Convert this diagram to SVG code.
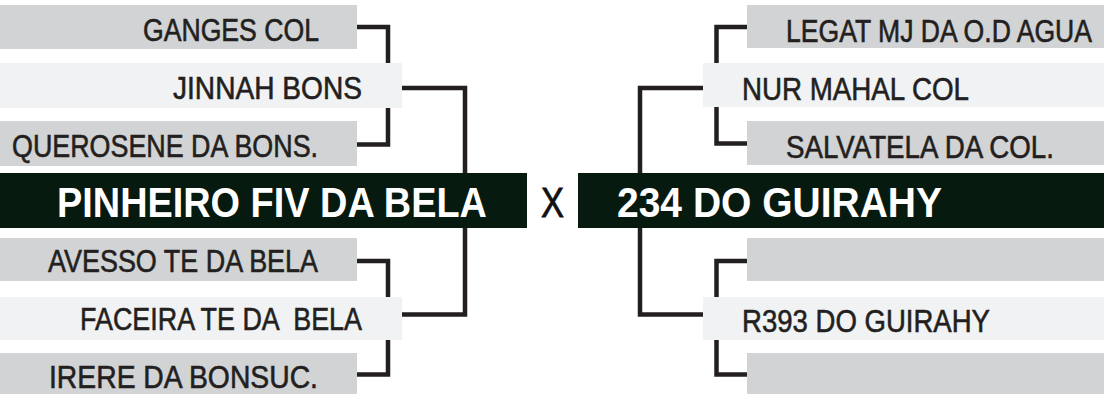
<svg xmlns="http://www.w3.org/2000/svg" width="1104" height="394" viewBox="0 0 1104 394">
<style>
.g{fill:#d1d3d4}
.l{fill:#f1f2f3}
.d{fill:#071a10}
.t{font-family:"Liberation Sans",Arial,sans-serif;font-size:32px;fill:#231f20;stroke:#231f20;stroke-width:0.6px}
.b{font-family:"Liberation Sans",Arial,sans-serif;font-size:43px;font-weight:bold;fill:#ffffff}
.c{fill:none;stroke:#231f20;stroke-width:4.5;stroke-linejoin:miter;stroke-linecap:butt}
</style>
<rect width="1104" height="394" fill="#ffffff"/>
<g id="connectors">
<path class="c" d="M357,27 H388 V63"/>
<path class="c" d="M388,108 V144.5 H357"/>
<path class="c" d="M402,88 H465 V173"/>
<path class="c" d="M357,261 H388 V297"/>
<path class="c" d="M388,340 V374.5 H357"/>
<path class="c" d="M402,314.5 H465 V228"/>
<path class="c" d="M747,27 H716.5 V63"/>
<path class="c" d="M716.5,107 V143.5 H747"/>
<path class="c" d="M703,88 H640 V173"/>
<path class="c" d="M747,261 H716.5 V297"/>
<path class="c" d="M716.5,340 V374.5 H747"/>
<path class="c" d="M703,314.5 H640 V228"/>
</g>
<g id="ganges"><rect class="g" x="0" y="5" width="357" height="44"/><text class="t" transform="translate(143 41) scale(0.82 1)" textLength="214.6" lengthAdjust="spacingAndGlyphs">GANGES COL</text></g>
<g id="jinnah"><rect class="l" x="0" y="63" width="402" height="45"/><text class="t" transform="translate(173 99) scale(0.82 1)" textLength="230.5" lengthAdjust="spacingAndGlyphs">JINNAH BONS</text></g>
<g id="querosene"><rect class="g" x="0" y="121" width="357" height="45"/><text class="t" transform="translate(12 157) scale(0.82 1)" textLength="373.2" lengthAdjust="spacingAndGlyphs">QUEROSENE DA BONS.</text></g>
<g id="pinheiro"><rect class="d" x="0" y="173" width="527" height="55"/><text class="b" transform="translate(57 216.5) scale(0.88 1)" textLength="488.6" lengthAdjust="spacingAndGlyphs">PINHEIRO FIV DA BELA</text></g>
<g id="avesso"><rect class="g" x="0" y="238" width="357" height="43"/><text class="t" transform="translate(48 272) scale(0.82 1)" textLength="329.3" lengthAdjust="spacingAndGlyphs">AVESSO TE DA BELA</text></g>
<g id="faceira"><rect class="l" x="0" y="297" width="402" height="43"/><text class="t" transform="translate(80 330) scale(0.82 1)" textLength="343.9" lengthAdjust="spacingAndGlyphs" xml:space="preserve">FACEIRA TE DA  BELA</text></g>
<g id="irere"><rect class="g" x="0" y="353" width="357" height="43"/><text class="t" transform="translate(49 388) scale(0.82 1)" textLength="328" lengthAdjust="spacingAndGlyphs">IRERE DA BONSUC.</text></g>
<g id="versus"><text x="541" y="217" font-family="Liberation Sans, Arial, sans-serif" font-size="42" fill="#111111" stroke="#111111" stroke-width="0.8" textLength="23" lengthAdjust="spacingAndGlyphs">X</text></g>
<g id="legat"><rect class="g" x="747" y="5" width="357" height="43"/><text class="t" transform="translate(786 42) scale(0.82 1)" textLength="373.2" lengthAdjust="spacingAndGlyphs">LEGAT MJ DA O.D AGUA</text></g>
<g id="nur"><rect class="l" x="703" y="63" width="401" height="44"/><text class="t" transform="translate(742 100) scale(0.82 1)" textLength="276.8" lengthAdjust="spacingAndGlyphs">NUR MAHAL COL</text></g>
<g id="salvatela"><rect class="g" x="747" y="121" width="357" height="44"/><text class="t" transform="translate(786 158) scale(0.82 1)" textLength="326.8" lengthAdjust="spacingAndGlyphs">SALVATELA DA COL.</text></g>
<g id="guirahy234"><rect class="d" x="578" y="173" width="526" height="55"/><text class="b" transform="translate(617 216.5) scale(0.88 1)" textLength="369.3" lengthAdjust="spacingAndGlyphs">234 DO GUIRAHY</text></g>
<g id="empty1"><rect class="g" x="747" y="238" width="357" height="43"/></g>
<g id="r393"><rect class="l" x="703" y="297" width="401" height="43"/><text class="t" transform="translate(742 332) scale(0.82 1)" textLength="302.4" lengthAdjust="spacingAndGlyphs">R393 DO GUIRAHY</text></g>
<g id="empty2"><rect class="g" x="747" y="353" width="357" height="43"/></g>
</svg>
